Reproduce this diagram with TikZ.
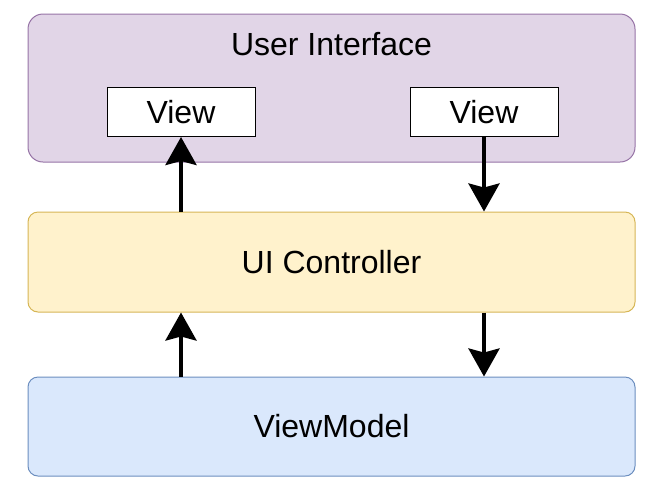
\documentclass[tikz,border=0pt]{standalone}
\usepackage{fontspec}
\setmainfont{Liberation Sans}
\usetikzlibrary{arrows.meta,positioning}

\definecolor{uifill}{HTML}{E1D5E7}
\definecolor{uidraw}{HTML}{9673A6}
\definecolor{ctlfill}{HTML}{FFF2CC}
\definecolor{ctldraw}{HTML}{D6B656}
\definecolor{vmfill}{HTML}{DAE8FC}
\definecolor{vmdraw}{HTML}{6C8EBF}

\begin{document}
\begin{tikzpicture}[x=0.5pt,y=-0.5pt,>={Stealth[length=14pt,width=15.5pt,inset=2pt]},
                    node distance=24.5pt,font=\fontsize{16}{19}\selectfont,
                    layer/.style={draw,line width=0.5pt,rounded corners=7.5pt,
                                  minimum width=303.5pt,inner sep=0pt},
                    view/.style={draw=black,fill=white,line width=0.5pt,
                                 minimum width=74pt,minimum height=24.5pt,inner sep=0pt},
                    flow/.style={->,line width=2pt}]
  \useasboundingbox (0,0) rectangle (663,494);

  \node[layer,fill=uifill,draw=uidraw,minimum height=74pt] (ui) at (331.5,88) {};
  \node[anchor=base]   (uititle) at (331.5,55) {User Interface};
  \node[view]          (lview)   at (181,112)  {View};
  \node[view]          (rview)   at (484,112)  {View};

  \node[layer,fill=ctlfill,draw=ctldraw,minimum height=50pt,rounded corners=5pt]
                       (ctrl) [below=of ui]       {UI Controller};
  \node[layer,fill=vmfill,draw=vmdraw,minimum height=49.5pt,rounded corners=5pt]
                       (vm)   [below=32pt of ctrl] {ViewModel};

  \draw[flow] (ctrl.north -| lview) -- (lview.south);
  \draw[flow] (rview.south) -- (rview |- ctrl.north);
  \draw[flow] (vm.north -| lview) -- (ctrl.south -| lview);
  \draw[flow] (ctrl.south -| rview) -- (rview |- vm.north);
\end{tikzpicture}
\end{document}
